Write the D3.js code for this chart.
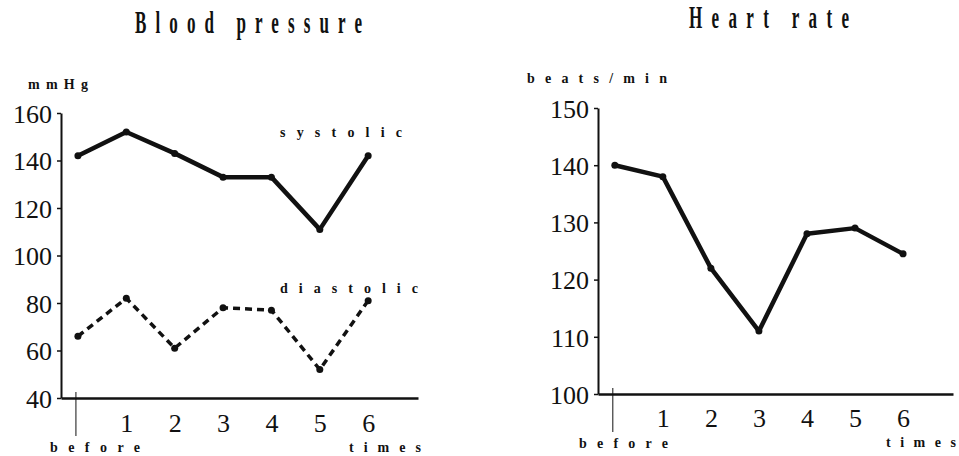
<!DOCTYPE html>
<html>
<head>
<meta charset="utf-8">
<script src="https://cdn.jsdelivr.net/npm/d3@7"></script>
<style>
  body { margin: 0; background: #fff; }
  svg { display: block; }
  svg text { font-family: "Liberation Serif", "Times New Roman", serif; }
  .lbl { font-weight: bold; fill: #111; }
</style>
</head>
<body>
<svg id="chart"></svg>
<script>
// data
const times = [0, 1, 2, 3, 4, 5, 6];          // 0 = before
const timeTicks = [1, 2, 3, 4, 5, 6];
const systolic = [142, 152, 143, 133, 133, 111, 142];
const diastolic = [66, 82, 61, 78, 77, 52, 81];
const heartRate = [140, 138, 122, 111, 128, 129, 124.5];
const bpTicks = [40, 60, 80, 100, 120, 140, 160];
const hrTicks = [100, 110, 120, 130, 140, 150];

const svg = d3.select("#chart").attr("width", 959).attr("height", 456);

// text stretched to a given width with wide letter spacing
function spaced(parent, x, y, str, width, size, sx) {
  sx = sx || 1;
  parent.append("g")
      .attr("transform", `translate(${x},${y}) scale(${sx},1)`)
      .append("text")
      .attr("class", "lbl")
      .attr("font-size", size)
      .attr("textLength", width / sx)
      .attr("lengthAdjust", "spacing")
      .text(str);
}

function panel(cfg) {
  const g = svg.append("g");

  const x = d3.scaleLinear().domain(cfg.xDomain).range([cfg.left, cfg.right]);
  const y = d3.scaleLinear().domain(cfg.yDomain).range([cfg.bottom, cfg.top]);

  // y axis
  const ya = g.append("g")
      .attr("transform", `translate(${cfg.left},0)`)
      .call(d3.axisLeft(y).tickValues(cfg.yTicks).tickSize(4).tickSizeOuter(0).tickPadding(5));
  ya.attr("font-family", null);
  ya.select(".domain").attr("stroke", "#111").attr("stroke-width", 2);
  ya.selectAll(".tick line").attr("stroke", "#111").attr("stroke-width", 1.5);
  ya.selectAll(".tick text").attr("font-size", 26).attr("fill", "#111").attr("dy", "0.36em");

  // x axis
  const xa = g.append("g")
      .attr("transform", `translate(0,${cfg.bottom})`)
      .call(d3.axisBottom(x).tickValues(timeTicks).tickSize(0).tickSizeOuter(0).tickPadding(cfg.xPad));
  xa.attr("font-family", null);
  xa.select(".domain").attr("stroke", "#111").attr("stroke-width", 2.5);
  xa.selectAll(".tick text").attr("font-size", 26).attr("fill", "#111");

  // "before" marker
  g.append("line")
      .attr("x1", x(0) - 2).attr("x2", x(0) - 2)
      .attr("y1", cfg.bottom - 6).attr("y2", cfg.bottom + 38)
      .attr("stroke", "#111").attr("stroke-width", 1);

  cfg.series.forEach(s => {
    const pts = times.map((t, i) => [t, s.values[i]]);
    g.append("path")
        .datum(pts)
        .attr("fill", "none")
        .attr("stroke", "#111")
        .attr("stroke-width", s.width)
        .attr("stroke-linejoin", "round")
        .attr("stroke-dasharray", s.dash || null)
        .attr("d", d3.line().x(d => x(d[0])).y(d => y(d[1])));
    g.selectAll(null)
        .data(pts)
        .join("circle")
        .attr("cx", d => x(d[0]))
        .attr("cy", d => y(d[1]))
        .attr("r", 3.5)
        .attr("fill", "#111");
  });

  cfg.labels.forEach(l => spaced(g, l.x, l.y, l.text, l.w, l.size, l.sx));
}

panel({
  left: 61, right: 418, top: 113, bottom: 398,
  xDomain: [-0.35, 7.03], yDomain: [40, 160], yTicks: bpTicks, xPad: 15.5,
  series: [
    { values: systolic, width: 4.5 },
    { values: diastolic, width: 3.5, dash: "7,5" }
  ],
  labels: [
    { text: "Blood pressure", x: 135, y: 33, w: 227, size: 31, sx: 0.55 },
    { text: "mmHg", x: 28, y: 89, w: 60, size: 14 },
    { text: "systolic", x: 280, y: 137, w: 122, size: 14 },
    { text: "diastolic", x: 280, y: 293, w: 138, size: 14 },
    { text: "before", x: 50, y: 452, w: 90, size: 14 },
    { text: "times", x: 349, y: 452, w: 72, size: 14 }
  ]
});

panel({
  left: 598, right: 953, top: 108, bottom: 394,
  xDomain: [-0.35, 7.04], yDomain: [100, 150], yTicks: hrTicks, xPad: 14.5,
  series: [
    { values: heartRate, width: 4.5 }
  ],
  labels: [
    { text: "Heart rate", x: 689, y: 28, w: 160, size: 31, sx: 0.55 },
    { text: "beats/min", x: 527, y: 83, w: 140, size: 14 },
    { text: "before", x: 579, y: 448, w: 89, size: 14 },
    { text: "times", x: 886, y: 447, w: 70, size: 14 }
  ]
});
</script>
</body>
</html>
